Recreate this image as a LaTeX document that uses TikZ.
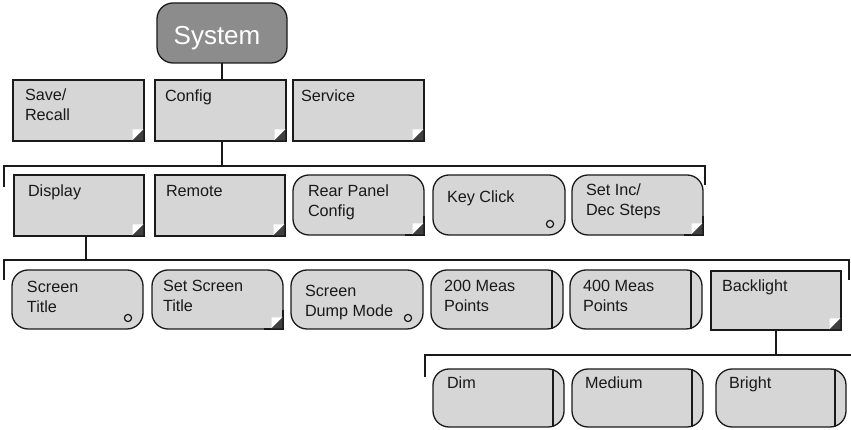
\documentclass[tikz,border=0pt]{standalone}
\usepackage{fontspec}
\setmainfont{Liberation Sans}
\usetikzlibrary{calc}
\definecolor{boxfill}{HTML}{D6D6D6}
\definecolor{sysfill}{HTML}{8C8C8C}
\definecolor{edgec}{HTML}{1A1A1A}
\definecolor{tridark}{HTML}{404040}
\newcommand\twoln[2]{\vtop{\hbox{#1}\hbox{#2}}}
\newcommand\sharpbr[1]{%
  \fill[boxfill] ($(#1.south east)+(-19,0)$) rectangle ($(#1.south east)+(0,19)$);
  \draw[edgec, line width=1.3pt] ($(#1.south east)+(-19,0)$) -- (#1.south east) -- ($(#1.south east)+(0,19)$);}
\newcommand\trimark[1]{%
  \fill[white] ($(#1.south east)+(-11.5,11.5)$) -- ($(#1.south east)+(-0.7,11.5)$) -- ($(#1.south east)+(-11.5,0.7)$) -- cycle;
  \fill[tridark] ($(#1.south east)+(-0.7,11.5)$) -- ($(#1.south east)+(-0.7,0.7)$) -- ($(#1.south east)+(-11.5,0.7)$) -- cycle;}
\newcommand\circmark[1]{%
  \draw[edgec, line width=1.2pt] ($(#1.south east)+(-15,11)$) circle (3.6);}
\newcommand\barmark[1]{%
  \draw[edgec, line width=1.3pt] ($(#1.north east)+(-11,0)$) -- ($(#1.south east)+(-11,0)$);}
\begin{document}
\begin{tikzpicture}[x=1pt,y=1pt,
  box/.style={draw=edgec, line width=1.3pt, fill=boxfill, anchor=north west, inner sep=0, outer sep=0},
  sqbox/.style={box},
  rndbox/.style={box, rounded corners=16pt},
  sysbox/.style={draw=edgec, line width=1.3pt, fill=sysfill, rounded corners=16pt, inner sep=0, outer sep=0, anchor=north west},
  txt/.style={anchor=base west, inner sep=0, outer sep=0, font=\fontsize{16.2}{19.5}\selectfont, text=black!90},
  conn/.style={draw=edgec, line width=1.3pt},
]
\fill[white] (0,0) rectangle (851,430);
\useasboundingbox (0,0) rectangle (851,430);

% System
\node[sysbox, minimum width=130pt, minimum height=60pt] (sys) at (157,427) {};
\node[anchor=base, inner sep=0, font=\fontsize{26}{30}\selectfont, text=white] (sysT) at ($(sys.north)+(-5,-42)$) {System};

% Row 1
\node[sqbox, minimum width=131pt, minimum height=61pt] (save) at (13,350) {};
\node[sqbox, minimum width=131pt, minimum height=61pt] (config) at (155,350) {};
\node[sqbox, minimum width=131pt, minimum height=61pt] (service) at (293,350) {};

% Row 2
\node[sqbox, minimum width=130pt, minimum height=61pt] (display) at (14,255) {};
\node[sqbox, minimum width=130pt, minimum height=61pt] (remote) at (155,255) {};
\node[rndbox, minimum width=131pt, minimum height=60pt] (rear) at (293,255) {};
\node[rndbox, minimum width=132pt, minimum height=60pt] (key) at (433,255) {};
\node[rndbox, minimum width=131pt, minimum height=60pt] (setinc) at (572,255) {};

% Row 3
\node[rndbox, minimum width=131pt, minimum height=59pt] (stitle) at (12,160) {};
\node[rndbox, minimum width=131pt, minimum height=59pt] (setscreen) at (152,160) {};
\node[rndbox, minimum width=132pt, minimum height=59pt] (dump) at (291,160) {};
\node[rndbox, minimum width=132pt, minimum height=59pt] (m200) at (431,160) {};
\node[rndbox, minimum width=132pt, minimum height=59pt] (m400) at (570,160) {};
\node[sqbox, minimum width=130pt, minimum height=59pt] (backlight) at (711,159) {};

% Row 4
\node[rndbox, minimum width=131pt, minimum height=58pt] (dim) at (433,61) {};
\node[rndbox, minimum width=131pt, minimum height=58pt] (medium) at (572,61) {};
\node[rndbox, minimum width=130pt, minimum height=58pt] (bright) at (716,61) {};

% corner details
\foreach \n in {rear,setinc,setscreen}{\sharpbr{\n}}
\foreach \n in {save,config,service,display,remote,rear,setinc,setscreen,backlight}{\trimark{\n}}
\foreach \n in {key,stitle,dump}{\circmark{\n}}
\foreach \n in {m200,m400,dim,medium,bright}{\barmark{\n}}

% texts
\node[txt] (saveT) at ($(save.north west)+(12,-21)$) {\twoln{Save/}{Recall}};
\node[txt] (configT) at ($(config.north west)+(10,-22)$) {Config};
\node[txt] (serviceT) at ($(service.north west)+(8,-22)$) {Service};
\node[txt] (displayT) at ($(display.north west)+(14,-22)$) {Display};
\node[txt] (remoteT) at ($(remote.north west)+(11,-22)$) {Remote};
\node[txt] (rearT) at ($(rear.north west)+(15,-22)$) {\twoln{Rear Panel}{Config}};
\node[txt] (keyT) at ($(key.north west)+(14,-28)$) {Key Click};
\node[txt] (setincT) at ($(setinc.north west)+(14,-21)$) {\twoln{Set Inc/}{Dec Steps}};
\node[txt] (stitleT) at ($(stitle.north west)+(15,-23)$) {\twoln{Screen}{Title}};
\node[txt] (setscreenT) at ($(setscreen.north west)+(11,-22)$) {\twoln{Set Screen}{Title}};
\node[txt] (dumpT) at ($(dump.north west)+(14,-27)$) {\twoln{Screen}{Dump Mode}};
\node[txt] (m200T) at ($(m200.north west)+(13,-22)$) {\twoln{200 Meas}{Points}};
\node[txt] (m400T) at ($(m400.north west)+(13,-22)$) {\twoln{400 Meas}{Points}};
\node[txt] (backlightT) at ($(backlight.north west)+(11,-21)$) {Backlight};
\node[txt] (dimT) at ($(dim.north west)+(14,-20)$) {Dim};
\node[txt] (mediumT) at ($(medium.north west)+(13,-20)$) {Medium};
\node[txt] (brightT) at ($(bright.north west)+(13,-20)$) {Bright};

% connectors
\coordinate (b1L) at (4,243);
\coordinate (b1R) at (705,245);
\coordinate (b1y) at (0,264);
\coordinate (b2L) at (4,150);
\coordinate (b2R) at (849,150);
\coordinate (b2y) at (0,170);
\coordinate (b3L) at (425,53);
\coordinate (b3R) at (851,75);
\coordinate (dispc) at ($(display.south west)+(72,0)$);

\draw[conn] (sys.south) -- (sys.south |- config.north);
\draw[conn] (sys.south |- config.south) -- (sys.south |- b1y);
\draw[conn] (b1L) -- (b1L |- b1y) -- (b1R |- b1y) -- (b1R);
\draw[conn] (dispc) -- (dispc |- b2y);
\draw[conn] (b2L) -- (b2L |- b2y) -- (b2R |- b2y) -- (b2R);
\draw[conn] (backlight.south) -- (backlight.south |- b3R);
\draw[conn] (b3L) -- (b3L |- b3R) -- (b3R);
\end{tikzpicture}
\end{document}
